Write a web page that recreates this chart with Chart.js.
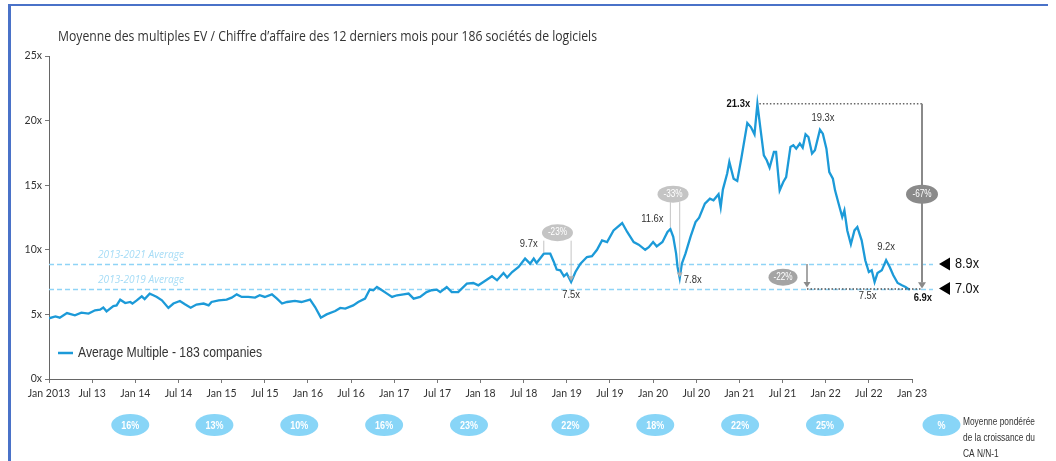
<!DOCTYPE html>
<html><head><meta charset="utf-8">
<script src="https://cdn.jsdelivr.net/npm/chart.js@4.4.0/dist/chart.umd.min.js"></script>
<style>
html,body{margin:0;padding:0;background:#fff;}
canvas{display:block;}
</style></head><body>
<canvas id="c" width="1056" height="461"></canvas>
<script>
// ---------- DATA ----------
const months = [0,0.9,1.5,2.5,3.6,4.5,5.5,6.4,7.1,7.55,8.0,8.95,9.4,9.9,10.6,11.3,11.6,12.2,12.9,13.3,14.0,14.5,15.0,15.7,16.6,17.3,18.2,18.9,19.7,20.5,21.5,22.2,22.6,23.6,24.7,25.4,26.1,26.8,27.7,28.65,29.3,30.0,31.0,31.7,32.4,33.1,34.2,35.1,36.3,37.0,37.8,38.6,39.8,40.5,41.2,42.3,43.0,43.95,44.6,45.1,45.6,46.3,47.0,47.7,48.4,49.3,50.0,50.7,51.6,52.5,53.2,53.9,54.4,55.3,56.0,56.9,58.1,59.0,59.7,60.4,61.6,62.3,63.2,63.7,64.4,65.3,66.2,66.9,67.4,67.8,68.8,69.7,70.2,70.6,71.1,71.6,72.0,72.6,73.2,73.9,74.8,75.5,76.2,76.9,77.6,78.5,79.7,80.4,81.3,82.0,82.9,83.4,84.0,84.5,85.3,86.0,86.4,86.8,87.2,87.4,87.7,88.0,88.5,89.2,89.9,90.4,91.2,91.9,92.4,93.1,93.4,93.7,94.3,94.6,95.2,95.7,96.3,97.1,97.6,98.1,98.5,98.9,99.4,99.8,100.2,100.8,101.1,101.6,102.1,102.5,103.1,103.5,103.9,104.4,104.8,105.2,105.6,106.1,106.5,107.2,107.6,108.1,108.5,109.0,109.3,109.8,110.3,110.6,111.0,111.5,112.0,112.4,113.0,113.5,114.0,114.4,114.8,115.2,115.8,116.4,116.9,117.4,118.0,118.6,119.1,119.7];
const multiple = [4.7,4.85,4.75,5.1,4.93,5.14,5.06,5.32,5.37,5.53,5.24,5.65,5.7,6.14,5.88,5.96,5.84,6.09,6.4,6.19,6.6,6.48,6.35,6.09,5.5,5.84,6.04,5.78,5.52,5.76,5.84,5.7,5.96,6.09,6.14,6.3,6.55,6.35,6.35,6.3,6.48,6.35,6.55,6.22,5.84,5.96,6.04,5.96,6.14,5.57,4.75,5.0,5.26,5.5,5.45,5.7,5.96,6.22,6.92,6.87,7.12,6.87,6.61,6.35,6.48,6.55,6.61,6.22,6.35,6.73,6.87,6.92,6.73,7.12,6.73,6.73,7.38,7.43,7.25,7.51,7.95,7.64,8.2,7.85,8.28,8.67,9.32,8.93,9.32,8.98,9.7,9.7,9.06,8.47,8.41,7.95,8.16,7.5,8.28,8.93,9.44,9.5,10.0,10.73,10.6,11.5,12.07,11.38,10.6,10.4,10.0,10.2,10.6,10.27,10.6,11.38,11.6,11.0,9.7,8.67,7.8,8.93,9.7,11.0,12.15,12.49,13.57,13.96,13.83,14.3,13.31,14.66,15.9,16.8,15.5,15.33,17.18,19.81,19.5,18.94,21.3,19.5,17.31,16.93,16.36,17.57,17.57,14.6,15.25,15.63,17.96,18.09,17.83,18.22,17.91,18.94,18.73,17.45,17.7,19.3,18.99,17.83,16.02,15.5,14.6,13.57,12.54,13.06,11.5,10.43,11.5,11.76,10.73,9.19,8.28,8.41,7.5,8.2,8.41,9.2,8.67,8.03,7.43,7.25,7.12,6.9];
const xTickLabels = ['Jan 2013','Jul 13','Jan 14','Jul 14','Jan 15','Jul 15','Jan 16','Jul 16','Jan 17','Jul 17','Jan 18','Jul 18','Jan 19','Jul 19','Jan 20','Jul 20','Jan 21','Jul 21','Jan 22','Jul 22','Jan 23'];
const yTickValues = [0,5,10,15,20,25];
const averageValues = [8.9, 7.0];
const averageNames = ['2013-2021 Average','2013-2019 Average'];
const averageTags = ['8.9x','7.0x'];
const labelText  = ['9.7x','7.5x','11.6x','7.8x','21.3x','19.3x','9.2x','7.5x','6.9x'];
const labelMonth = [68.8,72.6,86.4,87.7,98.5,107.2,116.4,114.8,119.7];
const labelValue = [9.7,7.5,11.6,7.8,21.3,19.3,9.2,7.5,6.9];
const drawdownText = ['-23%','-33%','-22%','-67%'];
const growthLabels = ['16%','13%','10%','16%','23%','22%','18%','22%','25%','%'];
const growthMonths = [11.3,23.0,34.8,46.6,58.4,72.5,84.3,96.1,107.9,124.1];
const seriesName = 'Average Multiple - 183 companies';
const titleText = 'Moyenne des multiples EV / Chiffre d\u2019affaire des 12 derniers mois pour 186 sociétés de logiciels';
const captionLines = ['Moyenne pondérée','de la croissance du','CA N/N-1'];

// ---------- STYLE ----------
const NARROW = '"Liberation Sans Narrow","Arial Narrow","Liberation Sans",Arial,sans-serif';
const TICKF = 'Lato,"Liberation Sans",sans-serif';
const SANS = '"Open Sans","Liberation Sans",sans-serif';
const LINE = '#1c9ad8';
const NX = 0.82; // horizontal condensing for Arial-Narrow-like labels

function txt(ctx, s, x, y, o) {
  ctx.save();
  ctx.font = o.font; ctx.fillStyle = o.color || '#333'; ctx.textBaseline = 'middle';
  const w = ctx.measureText(s).width;
  const sx = o.width ? o.width / w : (o.sx || 1);
  const align = o.align || 'left';
  const x0 = align === 'left' ? x : align === 'center' ? x - w * sx / 2 : x - w * sx;
  ctx.translate(x0, y); ctx.scale(sx, 1); ctx.textAlign = 'left';
  ctx.fillText(s, 0, 0);
  ctx.restore();
}
function ellipse(ctx, cx, cy, rx, ry, fill) {
  ctx.save(); ctx.beginPath(); ctx.ellipse(cx, cy, rx, ry, 0, 0, Math.PI * 2);
  ctx.fillStyle = fill; ctx.fill(); ctx.restore();
}
function line(ctx, x1, y1, x2, y2, color, w, dash) {
  ctx.save(); ctx.beginPath(); ctx.strokeStyle = color; ctx.lineWidth = w;
  ctx.setLineDash(dash || []); ctx.moveTo(x1, y1); ctx.lineTo(x2, y2); ctx.stroke(); ctx.restore();
}
function arrowHead(ctx, x, y, size, color) {
  ctx.save(); ctx.beginPath(); ctx.moveTo(x, y); ctx.lineTo(x - size, y - size * 1.6);
  ctx.lineTo(x + size, y - size * 1.6); ctx.closePath(); ctx.fillStyle = color; ctx.fill(); ctx.restore();
}

const decor = {
  id: 'decor',
  beforeDatasetsDraw(chart) {
    const ctx = chart.ctx, ys = chart.scales.y, ca = chart.chartArea;
    averageValues.forEach((v, i) => {
      const y = Math.round(ys.getPixelForValue(v)) + 0.5;
      line(ctx, ca.left, y, ca.right + 21, y, '#8fd4f6', 1.4, [5, 3]);
      txt(ctx, averageNames[i], 98, y - 9, { font: 'italic 10px ' + SANS, color: '#a6dcf6', width: 86 });
    });
  },
  afterDraw(chart) {
    const ctx = chart.ctx, xs = chart.scales.x, ys = chart.scales.y, ca = chart.chartArea;
    const X = m => xs.getPixelForValue(m), Y = v => ys.getPixelForValue(v);
    // frame
    ctx.save(); ctx.fillStyle = '#4a72c8';
    ctx.fillRect(8, 4, 1040, 2); ctx.fillRect(8, 4, 3, 457); ctx.restore();
    // title
    txt(ctx, titleText, 58, 37, { font: '14px ' + SANS, color: '#333', width: 539 });
    // legend
    line(ctx, 58, 353, 73, 353, LINE, 2.5);
    txt(ctx, seriesName, 78, 353, { font: '14px ' + NARROW, color: '#333', width: 184 });

    // average tags (triangles)
    averageValues.forEach((v, i) => {
      const y = Y(v);
      ctx.save(); ctx.beginPath(); ctx.moveTo(939, y); ctx.lineTo(950, y - 6.5); ctx.lineTo(950, y + 6.5);
      ctx.closePath(); ctx.fillStyle = '#000'; ctx.fill(); ctx.restore();
      txt(ctx, averageTags[i], 955, y, { font: '15px ' + NARROW, color: '#111', width: 24 });
    });

    // drawdown -23%
    const lg = '#c4c4c4';
    const bf = '10px ' + NARROW;
    let xa = X(labelMonth[0]), xb = X(labelMonth[1]);
    let by = Y(labelValue[0]) - 21;
    line(ctx, xa, by + 8, xa, Y(labelValue[0]) - 1, lg, 1);
    line(ctx, xb, by + 8, xb, Y(labelValue[1]) - 4, lg, 1);
    arrowHead(ctx, xb, Y(labelValue[1]) - 1, 3, '#b0b0b0');
    ellipse(ctx, (xa + xb) / 2, by, 15.5, 8.5, lg);
    txt(ctx, drawdownText[0], (xa + xb) / 2, by, { font: bf, color: '#fff', align: 'center', sx: NX });
    // drawdown -33%
    xa = X(labelMonth[2]); xb = X(labelMonth[3]);
    by = Y(labelValue[2]) - 35;
    line(ctx, xa, by + 8, xa, Y(labelValue[2]) - 2, lg, 1);
    line(ctx, xb, by + 8, xb, Y(labelValue[3]) - 4, lg, 1);
    arrowHead(ctx, xb, Y(labelValue[3]) - 1, 3, '#b0b0b0');
    ellipse(ctx, (xa + xb) / 2 - 2, by, 15.5, 8.5, lg);
    txt(ctx, drawdownText[1], (xa + xb) / 2 - 2, by, { font: bf, color: '#fff', align: 'center', sx: NX });

    // -67%: dotted lines + arrow
    const xr = ca.right + 10;
    const yTop = Y(labelValue[4]), yBot = Y(averageValues[1]);
    line(ctx, X(labelMonth[4]) + 2, yTop, xr, yTop, '#666', 1.5, [1.5, 2]);
    const x22 = X(105.4);
    line(ctx, x22, yBot + 0.5, xr, yBot + 0.5, '#555', 1.5, [1.5, 2]);
    line(ctx, xr, yTop, xr, yBot - 6, '#8a8a8a', 2);
    arrowHead(ctx, xr, yBot, 4, '#8a8a8a');
    ellipse(ctx, xr, (yTop + yBot) / 2 - 2, 16, 9.5, '#8a8a8a');
    txt(ctx, drawdownText[3], xr, (yTop + yBot) / 2 - 2, { font: bf, color: '#fff', align: 'center', sx: NX });
    // -22% arrow
    line(ctx, x22, Y(averageValues[0]), x22, yBot - 5, '#8a8a8a', 1.5);
    arrowHead(ctx, x22, yBot - 1, 3.5, '#8a8a8a');
    ellipse(ctx, x22 - 24, (Y(averageValues[0]) + yBot) / 2 + 1, 14.5, 8.5, '#a4a4a4');
    txt(ctx, drawdownText[2], x22 - 24, (Y(averageValues[0]) + yBot) / 2 + 1, { font: bf, color: '#fff', align: 'center', sx: NX });

    // value labels
    const offs = [[-15, -10], [0, 13], [-18, -10], [13, 2], [-19, 0], [3, -12], [0, -13], [-7, 14], [13, 8]];
    labelText.forEach((t, i) => {
      const bold = (i === 4 || i === 8);
      txt(ctx, t, X(labelMonth[i]) + offs[i][0], Y(labelValue[i]) + offs[i][1],
        { font: (bold ? 'bold ' : '') + '11.5px ' + NARROW, color: bold ? '#111' : '#333', align: 'center', sx: NX });
    });

    // growth bubbles
    growthLabels.forEach((g, i) => {
      const cx = X(growthMonths[i]);
      ellipse(ctx, cx, 425, 19, 11, '#88d5f7');
      txt(ctx, g, cx, 425.5, { font: 'bold 11px ' + NARROW, color: '#fff', align: 'center', sx: NX });
    });
    ctx.save(); ctx.font = '11px ' + NARROW;
    const cw = ctx.measureText(captionLines[1]).width; ctx.restore();
    captionLines.forEach((s, i) => {
      txt(ctx, s, 963, 422 + i * 16, { font: '11px ' + NARROW, color: '#333', sx: 72 / cw });
    });
  }
};

const ctx = document.getElementById('c').getContext('2d');
new Chart(ctx, {
  type: 'line',
  data: {
    datasets: [{
      label: seriesName,
      data: months.map((m, i) => ({ x: m, y: multiple[i] })),
      borderColor: LINE, borderWidth: 2.3, pointRadius: 0, tension: 0, fill: false
    }]
  },
  options: {
    responsive: false, animation: false, devicePixelRatio: 1,
    layout: { padding: { left: 0, top: 56, right: 144, bottom: 0 } },
    plugins: { legend: { display: false }, tooltip: { enabled: false }, title: { display: false } },
    scales: {
      x: {
        type: 'linear', min: 0, max: 120,
        afterBuildTicks: s => { s.ticks = xTickLabels.map((l, i) => ({ value: i * 6 })); },
        ticks: { callback: v => xTickLabels[Math.round(v / 6)], autoSkip: false, maxRotation: 0, minRotation: 0,
                 font: { family: TICKF, size: 10.5 }, color: '#333', padding: 4 },
        grid: { drawOnChartArea: false, drawTicks: true, tickLength: 4, color: '#777' },
        border: { color: '#666', width: 1 },
        afterFit: s => { s.height = 461 - 379; }
      },
      y: {
        min: 0, max: 25,
        afterBuildTicks: s => { s.ticks = yTickValues.map(v => ({ value: v })); },
        ticks: { callback: v => v + 'x', font: { family: TICKF, size: 10.5 }, color: '#333', padding: 3 },
        grid: { drawOnChartArea: false, drawTicks: true, tickLength: 4, color: '#777' },
        border: { color: '#666', width: 1 },
        afterFit: s => { s.width = 49; }
      }
    }
  },
  plugins: [decor]
});
</script>
</body></html>
